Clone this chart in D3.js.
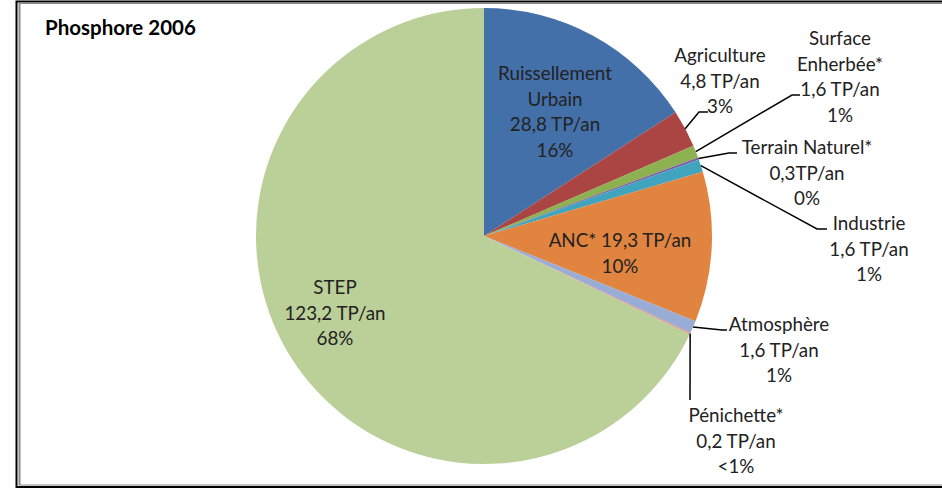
<!DOCTYPE html>
<html>
<head>
<meta charset="utf-8">
<script src="https://cdn.jsdelivr.net/npm/d3@7"></script>
<style>
  body { margin: 0; background: #fff; }
  svg { display: block; font-family: Lato, "Open Sans", sans-serif; }
</style>
</head>
<body>
<script>
// data
var categories = ["Ruissellement Urbain", "Agriculture", "Surface Enherbée*", "Terrain Naturel*",
                  "Industrie", "ANC*", "Atmosphère", "Pénichette*", "STEP"];
var values = [28.8, 4.8, 1.6, 0.3, 1.6, 19.3, 1.6, 0.2, 123.2];
var valueLabels = ["28,8 TP/an", "4,8 TP/an", "1,6 TP/an", "0,3TP/an", "1,6 TP/an",
                   "19,3 TP/an", "1,6 TP/an", "0,2 TP/an", "123,2 TP/an"];
var percentLabels = ["16%", "3%", "1%", "0%", "1%", "10%", "1%", "<1%", "68%"];
var colors = ["#4470a9", "#aa4543", "#8db050", "#7d60a3", "#40a4bf", "#e0843f", "#98acd6", "#da9694", "#bbcf98"];

// label layout: text lines, centre x, first line y, optional leader elbow / end
var labelLayout = [
  {lines: ["Ruissellement", "Urbain", "28,8 TP/an", "16%"], x: 555, y: 80},
  {lines: ["Agriculture", "4,8 TP/an", "3%"], x: 720, y: 62, elbow: [699, 112], end: [708, 112]},
  {lines: ["Surface", "Enherbée*", "1,6 TP/an", "1%"], x: 840, y: 45, elbow: [792, 95], end: [800, 95]},
  {lines: ["Terrain Naturel*", "0,3TP/an", "0%"], x: 807, y: 154, elbow: [729, 153], end: [737, 153]},
  {lines: ["Industrie", "1,6 TP/an", "1%"], x: 869, y: 230, elbow: [817, 229], end: [827, 229]},
  {lines: ["ANC* 19,3 TP/an", "10%"], x: 620, y: 247},
  {lines: ["Atmosphère", "1,6 TP/an", "1%"], x: 779, y: 331, elbow: [722, 330], end: [727, 330]},
  {lines: ["Pénichette*", "0,2 TP/an", "<1%"], x: 736, y: 422, elbow: [690, 400], end: [690, 400]},
  {lines: ["STEP", "123,2 TP/an", "68%"], x: 335, y: 294}
];

var width = 942, height = 490;
var cx = 484, cy = 236, radius = 228;
var lineH = 25.5;

var svg = d3.select("body").append("svg").attr("width", width).attr("height", height);

// frame
svg.append("line").attr("x1", 19.5).attr("x2", 19.5).attr("y1", 3).attr("y2", 485)
  .attr("stroke", "#8c8c8c").attr("stroke-width", 2);
svg.append("line").attr("x1", 19).attr("x2", width).attr("y1", 485).attr("y2", 485)
  .attr("stroke", "#8c8c8c").attr("stroke-width", 1);
svg.append("line").attr("x1", 19).attr("x2", width).attr("y1", 3.5).attr("y2", 3.5)
  .attr("stroke", "#8c8c8c").attr("stroke-width", 1);
svg.append("rect").attr("x", 16.5).attr("y", 1.5).attr("width", width + 20).attr("height", 485.5)
  .attr("fill", "none").attr("stroke", "#000").attr("stroke-width", 2);

// title
svg.append("text").attr("x", 45).attr("y", 35)
  .attr("font-weight", "bold").attr("font-size", 20.5).attr("fill", "#000")
  .text("Phosphore 2006");

var pie = d3.pie().sort(null).startAngle(0).endAngle(2 * Math.PI);
var arcs = pie(values);
var arc = d3.arc().innerRadius(0).outerRadius(radius);

var g = svg.append("g").attr("transform", "translate(" + cx + "," + cy + ")");

g.selectAll("path.slice")
  .data(arcs)
  .join("path")
  .attr("class", "slice")
  .attr("d", arc)
  .attr("fill", (d, i) => colors[i]);

// leader lines
function edgePoint(d) {
  var a = (d.startAngle + d.endAngle) / 2;
  return [cx + radius * Math.sin(a), cy - radius * Math.cos(a)];
}

arcs.forEach(function(d, i) {
  var lay = labelLayout[i];
  if (!lay.elbow) return;
  var p = edgePoint(d);
  svg.append("path")
    .attr("d", d3.line()([p, lay.elbow, lay.end]))
    .attr("fill", "none").attr("stroke", "#000").attr("stroke-width", 1.5);
});

// labels
labelLayout.forEach(function(lay, i) {
  var t = svg.append("text")
    .attr("text-anchor", "middle")
    .attr("font-size", 18.8)
    .attr("fill", "#222");
  lay.lines.forEach(function(s, k) {
    t.append("tspan").attr("x", lay.x).attr("y", lay.y + k * lineH).text(s);
  });
});
</script>
</body>
</html>
